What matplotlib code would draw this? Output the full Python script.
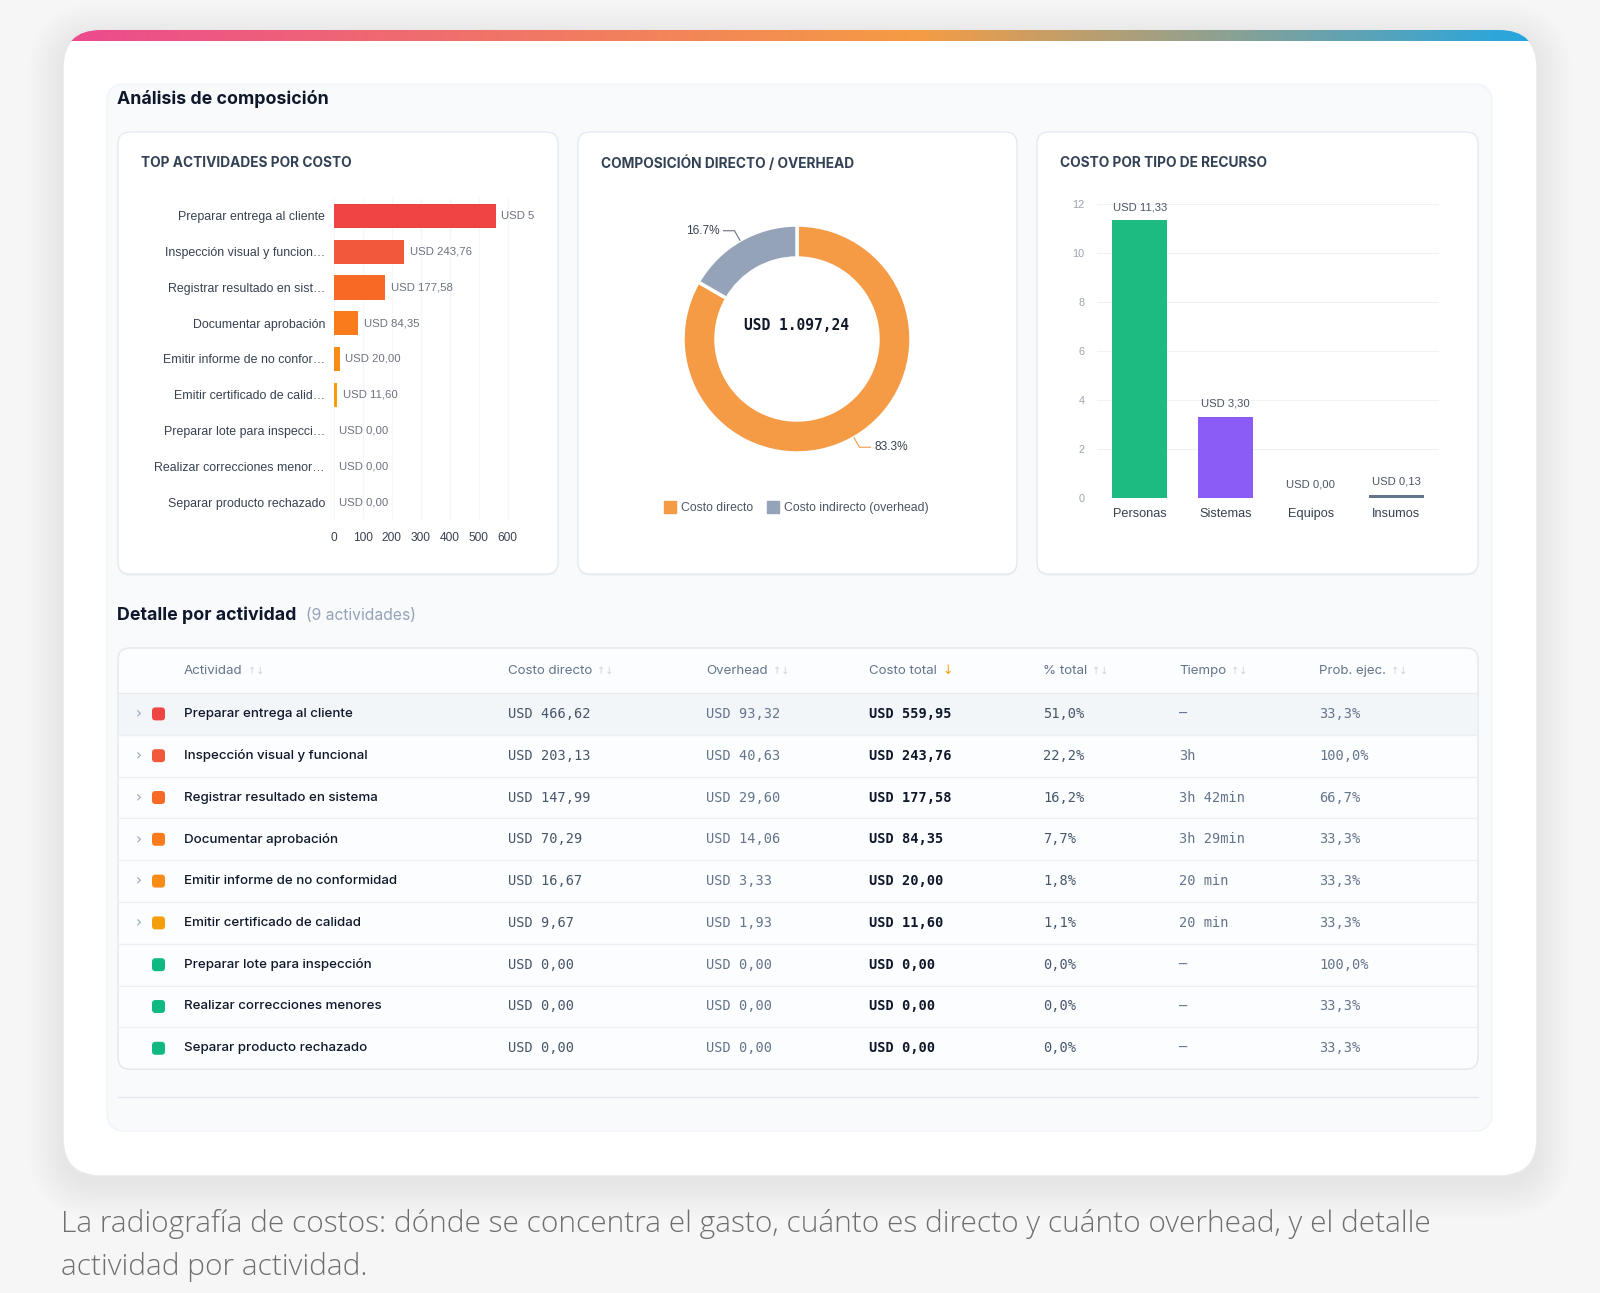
import matplotlib
matplotlib.use('Agg')
import matplotlib.pyplot as plt
import numpy as np
from matplotlib.patches import FancyBboxPatch, Rectangle
from matplotlib.colors import LinearSegmentedColormap
from matplotlib.lines import Line2D

# ---------------- data ----------------
activities = [
    "Preparar entrega al cliente",
    "Inspección visual y funcional",
    "Registrar resultado en sistema",
    "Documentar aprobación",
    "Emitir informe de no conformidad",
    "Emitir certificado de calidad",
    "Preparar lote para inspección",
    "Realizar correcciones menores",
    "Separar producto rechazado",
]
costo_directo = [466.62, 203.13, 147.99, 70.29, 16.67, 9.67, 0.00, 0.00, 0.00]
overhead = [93.32, 40.63, 29.60, 14.06, 3.33, 1.93, 0.00, 0.00, 0.00]
costo_total = [559.95, 243.76, 177.58, 84.35, 20.00, 11.60, 0.00, 0.00, 0.00]
pct_total = [51.0, 22.2, 16.2, 7.7, 1.8, 1.1, 0.0, 0.0, 0.0]
tiempo = ["—", "3h", "3h 42min", "3h 29min", "20 min", "20 min", "—", "—", "—"]
prob_ejec = [33.3, 100.0, 66.7, 33.3, 33.3, 33.3, 100.0, 33.3, 33.3]
activity_colors = ['#ef4444', '#f2583a', '#f66a26', '#f97b1c', '#f98b17', '#f59e0b',
                   '#10b981', '#10b981', '#10b981']
expandable = [True, True, True, True, True, True, False, False, False]

bar_ticks = [0, 100, 200, 300, 400, 500, 600]

comp_labels = ["Costo directo", "Costo indirecto (overhead)"]
comp_colors = ['#f59a45', '#94a3b8']

recursos = ["Personas", "Sistemas", "Equipos", "Insumos"]
recursos_val = [11.33, 3.30, 0.00, 0.13]
recursos_colors = ['#1dba82', '#8b5cf6', '#94a3b8', '#64748b']
recursos_ticks = [0, 2, 4, 6, 8, 10, 12]

table_headers = ["Actividad", "Costo directo", "Overhead", "Costo total", "% total", "Tiempo", "Prob. ejec."]

caption = ("La radiografía de costos: dónde se concentra el gasto, cuánto es directo y cuánto overhead, y el detalle\n"
           "actividad por actividad.")


def fmt_num(v, d=2):
    s = f"{v:,.{d}f}"
    return s.replace(",", "X").replace(".", ",").replace("X", ".")


def usd(v):
    return "USD " + fmt_num(v)


def short(s, n=27):
    return s if len(s) <= n else s[:n] + "…"


# ---------------- figure ----------------
W, H = 1600, 1293
fig = plt.figure(figsize=(16, 12.93), dpi=100, facecolor='#f6f6f6')
UI = ['Inter', 'DejaVu Sans']
CH = ['Liberation Sans', 'DejaVu Sans']
MONO = ['DejaVu Sans Mono']


def fr(x0, y0, x1, y1):
    return [x0 / W, 1 - y1 / H, (x1 - x0) / W, (y1 - y0) / H]


bg = fig.add_axes([0, 0, 1, 1], zorder=0)
bg.set_xlim(0, W)
bg.set_ylim(H, 0)
bg.axis('off')


def rbox(x0, y0, x1, y1, r, fc, ec='none', lw=1.0, z=1, alpha=1.0):
    p = FancyBboxPatch((x0, y0), x1 - x0, y1 - y0,
                       boxstyle=f"round,pad=0,rounding_size={r}",
                       fc=fc, ec=ec, lw=lw, zorder=z, alpha=alpha)
    bg.add_patch(p)
    return p


# shadow of outer card
for i in range(16):
    e = 2 + i * 2.2
    rbox(63 - e, 30 - e + 8, 1537 + e, 1176 + e + 8, 38 + e, '#000000', z=0.5, alpha=0.005)

card = rbox(63, 30, 1537, 1176, 38, '#ffffff', ec='#e8e8e8', lw=1.0, z=1)

# gradient strip, clipped to card
cmap = LinearSegmentedColormap.from_list('g', [(0, '#ec4a8e'), (0.58, '#f59c44'), (1.0, '#22a6e2')])
grad = np.linspace(0, 1, 512).reshape(1, -1)
im = bg.imshow(grad, cmap=cmap, extent=(63, 1537, 41, 29), aspect='auto', zorder=2)
im.set_clip_path(card)
bg.set_xlim(0, W)
bg.set_ylim(H, 0)

# inner panel
rbox(107, 84, 1492, 1131, 18, '#f8fafc', ec='#f1f4f8', lw=1.0, z=2)
bg.text(117, 99, "Análisis de composición", fontsize=12.8, fontweight='bold', color='#0f172a',
        family=UI, va='center', ha='left', zorder=5)

# three cards
cards_x = [(118, 558), (578, 1017), (1037, 1478)]
titles = ["TOP ACTIVIDADES POR COSTO", "COMPOSICIÓN DIRECTO / OVERHEAD", "COSTO POR TIPO DE RECURSO"]
for (x0, x1), t in zip(cards_x, titles):
    rbox(x0, 133 + 2, x1, 574 + 2, 12, '#e9edf2', z=2.5, alpha=0.6)
    rbox(x0, 132, x1, 574, 12, '#ffffff', ec='#e5e9ef', lw=1.0, z=3)
    bg.text(x0 + 23, 163, t, fontsize=9.9, fontweight='bold', color='#334155',
            family=UI, va='center', ha='left', zorder=5)

# ---------------- chart 1: top actividades ----------------
ax1 = fig.add_axes(fr(334, 198, 535, 520), zorder=3)
ax1.set_facecolor('none')
ypos = np.arange(len(activities))
ax1.barh(ypos, costo_total, height=0.68, color=activity_colors, zorder=3)
ax1.set_ylim(len(activities) - 0.5, -0.5)
ax1.set_xlim(0, 695)
ax1.set_yticks(ypos)
ax1.set_yticklabels([short(a) for a in activities], family=CH, fontsize=8.9, color='#374151')
ax1.set_xticks(bar_ticks)
ax1.set_xticklabels([str(t) for t in bar_ticks], family=CH, fontsize=8.6, color='#374151')
ax1.tick_params(axis='both', length=0)
ax1.tick_params(axis='y', pad=6.5)
ax1.tick_params(axis='x', pad=9)
for s in ax1.spines.values():
    s.set_visible(False)
for t in bar_ticks:
    ax1.axvline(t, color='#f5f6f8', lw=0.8, zorder=1)
for y, v in zip(ypos, costo_total):
    ax1.text(v + 18, y, usd(v), family=CH, fontsize=8.2, color='#6b7280', va='center', ha='left',
             clip_on=True, zorder=4)

# ---------------- chart 2: donut ----------------
ax2 = fig.add_axes(fr(647, 189, 947, 489), zorder=3)
ax2.set_facecolor('none')
comp_vals = [sum(costo_directo), sum(overhead)]
total = sum(comp_vals)
wedges, _ = ax2.pie(comp_vals, colors=comp_colors, startangle=90, counterclock=False,
                    radius=1.14, wedgeprops=dict(width=0.33, edgecolor='white', linewidth=2.5))
ax2.set_xlim(-1.5, 1.5)
ax2.set_ylim(-1.5, 1.5)
ax2.set_aspect('equal')
ax2.axis('off')
for w, v, col in zip(wedges, comp_vals, ['#f59a45', '#6b7280']):
    th = np.deg2rad((w.theta1 + w.theta2) / 2)
    c, s = np.cos(th), np.sin(th)
    sign = 1 if c >= 0 else -1
    p0 = (1.14 * c, 1.14 * s)
    p1 = (1.25 * c, 1.25 * s)
    p2 = (p1[0] + sign * 0.11, p1[1])
    ax2.plot([p0[0], p1[0], p2[0]], [p0[1], p1[1], p2[1]], color=col, lw=0.8, clip_on=False)
    ax2.text(p2[0] + sign * 0.04, p2[1], f"{v / total * 100:.1f}%", family=CH, fontsize=8.6,
             color='#374151', va='center', ha='left' if sign > 0 else 'right')
ax2.text(0, 0.14, usd(total), family=MONO, fontsize=10.5, fontweight='bold', color='#111827',
         ha='center', va='center')
handles = [Line2D([], [], marker='s', ls='none', markersize=8.5, markerfacecolor=c, markeredgecolor=c)
           for c in comp_colors]
fig.legend(handles, comp_labels, loc='center', bbox_to_anchor=(797 / W, 1 - 508 / H), ncol=2,
           frameon=False, prop=dict(family=CH, size=8.8), labelcolor='#4b5563',
           handlelength=0.8, handletextpad=0.5, columnspacing=1.2)

# ---------------- chart 3: recursos ----------------
ax3 = fig.add_axes(fr(1097, 204, 1439, 498), zorder=3)
ax3.set_facecolor('none')
xr = np.arange(len(recursos))
ax3.bar(xr, recursos_val, width=0.64, color=recursos_colors, zorder=3)
ax3.set_xlim(-0.5, len(recursos) - 0.5)
ax3.set_ylim(0, 12)
ax3.set_yticks(recursos_ticks)
ax3.set_yticklabels([str(t) for t in recursos_ticks], family=CH, fontsize=7.8, color='#9ca3af')
ax3.set_xticks(xr)
ax3.set_xticklabels(recursos, family=CH, fontsize=9.2, color='#374151')
ax3.tick_params(axis='both', length=0)
ax3.tick_params(axis='y', pad=9)
ax3.tick_params(axis='x', pad=7)
for s in ax3.spines.values():
    s.set_visible(False)
for t in recursos_ticks:
    ax3.axhline(t, color='#eef1f5' if t else '#e5e7eb', lw=0.8, zorder=1)
for x, v in zip(xr, recursos_val):
    ax3.annotate(usd(v), (x, v), xytext=(0, 6), textcoords='offset points', ha='center', va='bottom',
                 family=CH, fontsize=8.1, color='#4b5563', annotation_clip=False)

# ---------------- table ----------------
bg.text(117, 615, "Detalle por actividad", fontsize=12.8, fontweight='bold', color='#0f172a',
        family=UI, va='center', ha='left', zorder=5)
bg.text(306, 616, "(9 actividades)", fontsize=11.3, color='#94a3b8', family=UI, va='center',
        ha='left', zorder=5)

tx0, tx1, ty0 = 118, 1478, 648
head_h, row_h = 45, 41.8
ty1 = ty0 + head_h + row_h * len(activities)
rbox(tx0, ty0, tx1, ty1, 12, '#fcfdfe', ec='#e3e8ef', lw=1.0, z=3)
col_x = [184, 508, 706, 869, 1043, 1179, 1319]

fig.canvas.draw()
renderer = fig.canvas.get_renderer()
hy = ty0 + 23
for i, (h, x) in enumerate(zip(table_headers, col_x)):
    t = bg.text(x, hy, h, fontsize=9.6, color='#64748b', family=UI, va='center', ha='left', zorder=6)
    bb = t.get_window_extent(renderer)
    if h == "Costo total":
        bg.text(bb.x1 + 6, hy, "↓", fontsize=9, color='#f59e0b', family=['DejaVu Sans'],
                va='center', ha='left', zorder=6)
    else:
        bg.text(bb.x1 + 5, hy, "↑↓", fontsize=7, color='#cbd5e1', family=['DejaVu Sans'],
                va='center', ha='left', zorder=6)
bg.plot([tx0, tx1], [ty0 + head_h, ty0 + head_h], color='#e8ecf1', lw=1.0, zorder=5)

for i, a in enumerate(activities):
    top = ty0 + head_h + i * row_h
    cy = top + row_h / 2
    if i == 0:
        bg.add_patch(Rectangle((tx0 + 1, top), tx1 - tx0 - 2, row_h, fc='#f3f6f9', ec='none', zorder=4))
    if i < len(activities) - 1:
        bg.plot([tx0, tx1], [top + row_h, top + row_h], color='#eceff3', lw=1.0, zorder=5)
    if expandable[i]:
        bg.text(139, cy, "›", fontsize=11, color='#94a3b8', family=['DejaVu Sans'], va='center',
                ha='center', zorder=6)
    rbox(152, cy - 6.5, 165, cy + 6.5, 3.5, activity_colors[i], z=6)
    bg.text(col_x[0], cy, a, fontsize=9.6, fontweight='medium', color='#0f172a', family=UI,
            va='center', ha='left', zorder=6)
    bg.text(col_x[1], cy, usd(costo_directo[i]), fontsize=9.8, color='#475569', family=MONO,
            va='center', ha='left', zorder=6)
    bg.text(col_x[2], cy, usd(overhead[i]), fontsize=9.8, color='#64748b', family=MONO,
            va='center', ha='left', zorder=6)
    bg.text(col_x[3], cy, usd(costo_total[i]), fontsize=9.8, fontweight='bold', color='#0f172a',
            family=MONO, va='center', ha='left', zorder=6)
    bg.text(col_x[4], cy, fmt_num(pct_total[i], 1) + "%", fontsize=9.8, color='#475569', family=MONO,
            va='center', ha='left', zorder=6)
    bg.text(col_x[5], cy, tiempo[i], fontsize=9.8, color='#64748b', family=MONO,
            va='center', ha='left', zorder=6)
    bg.text(col_x[6], cy, fmt_num(prob_ejec[i], 1) + "%", fontsize=9.8, color='#64748b', family=MONO,
            va='center', ha='left', zorder=6)

bg.plot([118, 1478], [1097, 1097], color='#e5e9ef', lw=1.0, zorder=4)

# caption
cap_lines = caption.split("\n")
for k, line in enumerate(cap_lines):
    bg.text(61, 1224 + k * 43, line, fontsize=21.5, fontweight='light', color='#6f6f6f',
            family=['Open Sans', 'DejaVu Sans'], va='center', ha='left', zorder=5)

fig.savefig('out.png', dpi=100, facecolor=fig.get_facecolor())
